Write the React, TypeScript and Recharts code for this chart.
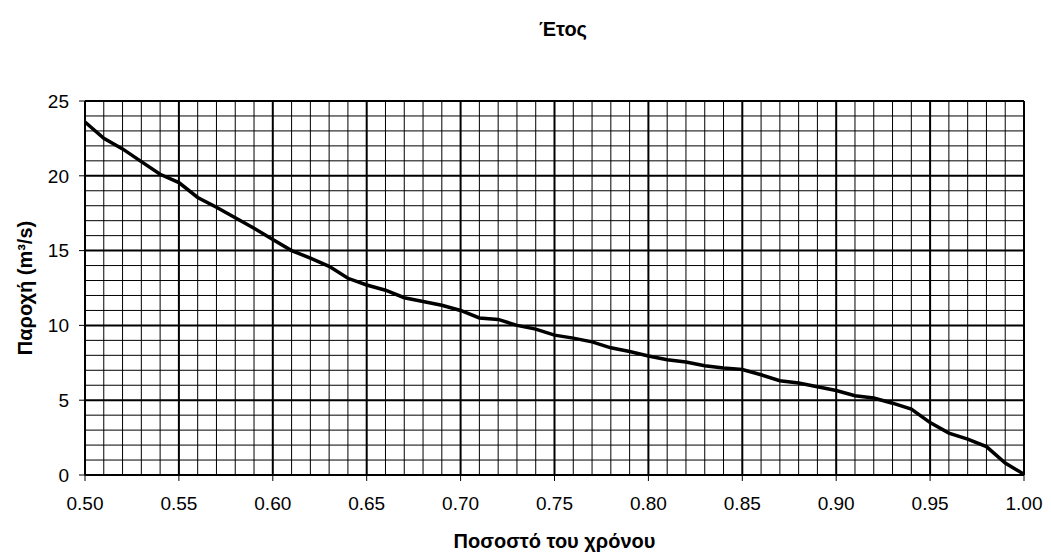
import React from 'react';
import { LineChart, Line, XAxis, YAxis, Label, ReferenceLine } from 'recharts';

// share of the year (x) and discharge in m3/s (y)
const shares = [
    0.5, 0.51, 0.52, 0.53, 0.54, 0.55, 0.56, 0.57, 0.58, 0.59,
    0.6, 0.61, 0.62, 0.63, 0.64, 0.65, 0.66, 0.67, 0.68, 0.69,
    0.7, 0.71, 0.72, 0.73, 0.74, 0.75, 0.76, 0.77, 0.78, 0.79,
    0.8, 0.81, 0.82, 0.83, 0.84, 0.85, 0.86, 0.87, 0.88, 0.89,
    0.9, 0.91, 0.92, 0.93, 0.94, 0.95, 0.96, 0.97, 0.98, 0.99, 1.0,
];
const flows = [
    23.6, 22.5, 21.8, 20.95, 20.1, 19.55, 18.55, 17.9, 17.2, 16.5,
    15.75, 15.0, 14.5, 13.95, 13.15, 12.7, 12.35, 11.85, 11.6, 11.35,
    11.0, 10.5, 10.4, 10.0, 9.75, 9.35, 9.15, 8.9, 8.5, 8.25,
    7.95, 7.7, 7.55, 7.3, 7.15, 7.05, 6.7, 6.3, 6.15, 5.9,
    5.65, 5.3, 5.15, 4.8, 4.4, 3.5, 2.8, 2.4, 1.9, 0.8, 0.05,
];

const xTicks = [0.5, 0.55, 0.6, 0.65, 0.7, 0.75, 0.8, 0.85, 0.9, 0.95, 1.0];
const yTicks = [0, 5, 10, 15, 20, 25];
const yMinor = [
    1, 2, 3, 4, 6, 7, 8, 9, 11, 12, 13, 14, 16, 17, 18, 19, 21, 22, 23, 24,
];

const title = 'Έτος';
const xTitle = 'Ποσοστό του χρόνου';
const yTitle = 'Παροχή (m³/s)';

const data = shares.map((s, i) => ({ share: s, flow: flows[i] }));

const font = '"Liberation Sans", Arial, sans-serif';
const isMajorX = (v: number) => xTicks.some((t) => Math.abs(t - v) < 1e-9);

export default function App() {
    return (
        <div style={{ position: 'absolute', left: 0, top: 0, width: 1051, height: 554, background: '#fff', fontFamily: font }}>
            <div
                style={{
                    position: 'absolute',
                    left: 0,
                    width: 1126,
                    top: 18,
                    textAlign: 'center',
                    fontWeight: 'bold',
                    fontSize: 20,
                }}
            >
                {title}
            </div>
            <LineChart
                width={1051}
                height={554}
                data={data}
                margin={{ top: 101, right: 27, left: 25, bottom: 0 }}
            >
                <XAxis
                    dataKey="share"
                    type="number"
                    domain={[0.5, 1]}
                    ticks={xTicks}
                    tickFormatter={(v: number) => v.toFixed(2)}
                    stroke="#000"
                    tick={{ fill: '#000', fontSize: 19, fontFamily: font }}
                    tickSize={6}
                    tickMargin={16}
                    height={79}
                >
                    <Label
                        value={xTitle}
                        position="insideBottom"
                        offset={6}
                        style={{ fill: '#000', fontSize: 20, fontWeight: 'bold', fontFamily: font }}
                    />
                </XAxis>
                <YAxis
                    type="number"
                    domain={[0, 25]}
                    ticks={yTicks}
                    stroke="#000"
                    tick={{ fill: '#000', fontSize: 19, fontFamily: font }}
                    tickSize={6}
                    tickMargin={10}
                    width={60}
                >
                    <Label
                        value={yTitle}
                        angle={-90}
                        position="insideLeft"
                        offset={0}
                        style={{ textAnchor: 'middle', fill: '#000', fontSize: 20, fontWeight: 'bold', fontFamily: font }}
                    />
                </YAxis>

                {/* minor grid */}
                {shares.filter((s) => !isMajorX(s)).map((s) => (
                    <ReferenceLine key={'vx' + s} x={s} stroke="#000" strokeWidth={1} ifOverflow="visible" />
                ))}
                {yMinor.map((v) => (
                    <ReferenceLine key={'hy' + v} y={v} stroke="#000" strokeWidth={1} ifOverflow="visible" />
                ))}
                {/* major grid */}
                {xTicks.map((s) => (
                    <ReferenceLine key={'VX' + s} x={s} stroke="#000" strokeWidth={2} ifOverflow="visible" />
                ))}
                {yTicks.map((v) => (
                    <ReferenceLine key={'HY' + v} y={v} stroke="#000" strokeWidth={2} ifOverflow="visible" />
                ))}

                <Line
                    type="linear"
                    dataKey="flow"
                    stroke="#000"
                    strokeWidth={3.5}
                    dot={false}
                    isAnimationActive={false}
                />
            </LineChart>
        </div>
    );
}
